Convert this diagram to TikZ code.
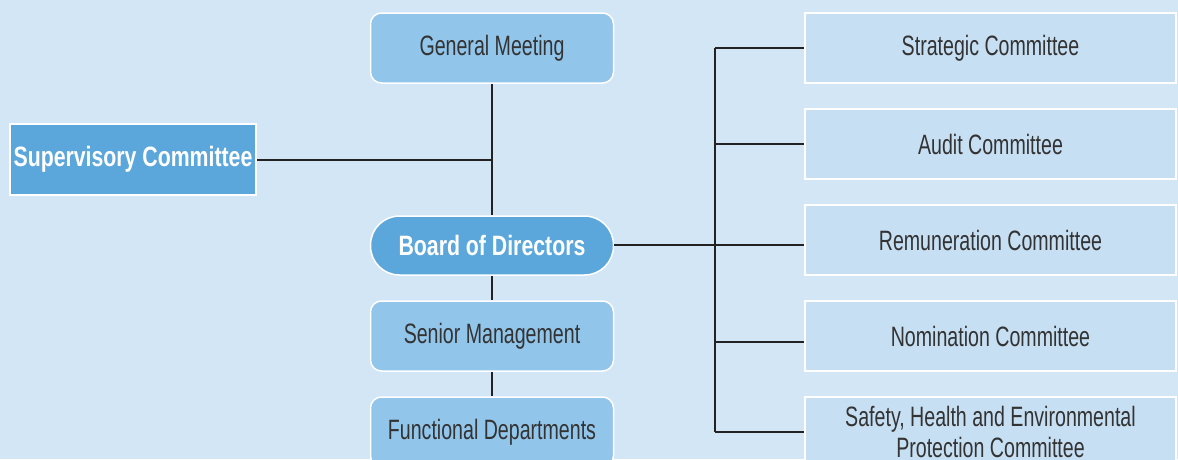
\documentclass[tikz,border=0pt]{standalone}
\usepackage{fontspec}
\newfontfamily\regf[FakeStretch=0.70]{Liberation Sans}
\newfontfamily\boldf[FakeStretch=0.76]{Liberation Sans}
\definecolor{bg}{RGB}{210,230,246}
\definecolor{midblue}{RGB}{146,197,234}
\definecolor{darkblue}{RGB}{91,167,219}
\definecolor{paleblue}{RGB}{199,223,243}
\definecolor{txt}{RGB}{51,51,51}
\definecolor{ln}{RGB}{34,34,34}
\tikzset{
  base/.style={draw=white, line width=1.5pt, inner sep=0pt, align=center},
  midbox/.style={base, fill=midblue, rounded corners=11pt, minimum width=243pt, minimum height=70pt,
    font=\regf\fontsize{28}{31}\selectfont, text=txt},
  boardbox/.style={base, fill=darkblue, rounded corners=29pt, minimum width=243pt, minimum height=59pt,
    font=\boldf\bfseries\fontsize{28}{31}\selectfont, text=white},
  supbox/.style={base, fill=darkblue, minimum width=246pt, minimum height=71pt,
    font=\boldf\bfseries\fontsize{28}{31}\selectfont, text=white},
  combox/.style={base, fill=paleblue, minimum width=371pt, minimum height=70pt,
    font=\regf\fontsize{28}{31}\selectfont, text=txt},
  conn/.style={draw=ln, line width=2pt}
}
\begin{document}
\begin{tikzpicture}[x=1pt,y=-1pt]
\useasboundingbox (0,0) rectangle (1178,459);
\fill[bg] (0,0) rectangle (1178,459);
\clip (0,0) rectangle (1178,459);
% nodes
\node[midbox] (gm) at (492,48) {General Meeting};
\node[supbox] (sup) at (133,159.5) {Supervisory Committee};
\node[boardbox] (bod) at (492,245.5) {Board of Directors};
\node[midbox] (sm) at (492,336) {Senior Management};
\node[midbox] (fd) at (492,432) {Functional Departments};
\node[combox] (c1) at (990.5,48) {Strategic Committee};
\node[combox] (c2) at (990.5,144) {Audit Committee};
\node[combox] (c3) at (990.5,240) {Remuneration Committee};
\node[combox] (c4) at (990.5,336) {Nomination Committee};
\node[combox] (c5) at (990.5,432) {Safety, Health and Environmental\\Protection Committee};
% junction coordinates
\coordinate (jv) at (gm.south |- sup.east);
\coordinate (rt) at (715,48);
\coordinate (rb) at (715,432);
\coordinate (r2) at (715,144);
\coordinate (r3) at (715,244.5);
\coordinate (r4) at (715,341.5);
% connectors
\draw[conn] (gm.south) -- (bod.north);
\draw[conn] (sup.east) -- (jv);
\draw[conn] (bod.south) -- (sm.north);
\draw[conn] (sm.south) -- (fd.north);
\draw[conn] (rt) -- (rb);
\draw[conn] (rt) -- (c1.west);
\draw[conn] (r2) -- (c2.west |- r2);
\draw[conn] (bod.east |- r3) -- (c3.west |- r3);
\draw[conn] (r4) -- (c4.west |- r4);
\draw[conn] (rb) -- (c5.west);
\end{tikzpicture}
\end{document}
